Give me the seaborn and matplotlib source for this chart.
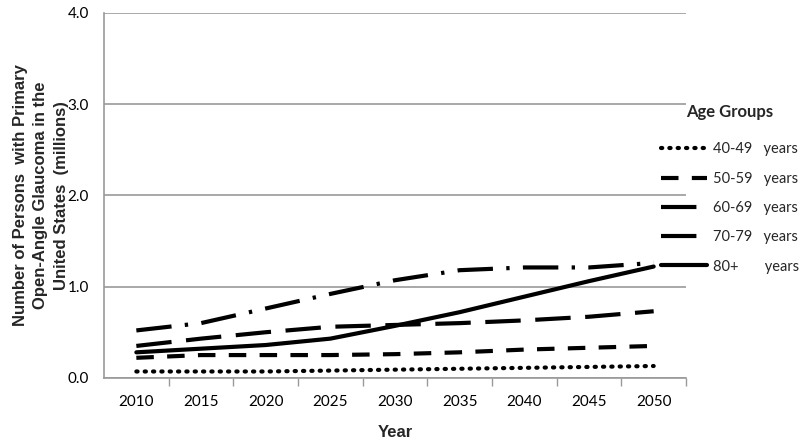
import matplotlib
matplotlib.use("Agg")
import matplotlib.pyplot as plt
import seaborn as sns
import pandas as pd

years = [2010, 2015, 2020, 2025, 2030, 2035, 2040, 2045, 2050]
age_groups = ["40-49   years", "50-59   years", "60-69   years", "70-79   years", "80+       years"]
v40 = [0.07, 0.07, 0.07, 0.08, 0.09, 0.10, 0.11, 0.12, 0.13]
v50 = [0.22, 0.25, 0.25, 0.25, 0.26, 0.28, 0.31, 0.33, 0.35]
v60 = [0.35, 0.43, 0.50, 0.56, 0.58, 0.60, 0.63, 0.67, 0.73]
v70 = [0.52, 0.60, 0.76, 0.92, 1.07, 1.18, 1.21, 1.21, 1.26]
v80 = [0.28, 0.32, 0.36, 0.43, 0.57, 0.72, 0.89, 1.06, 1.22]
yticks = [0.0, 1.0, 2.0, 3.0, 4.0]

rows = []
for g, vals in zip(age_groups, [v40, v50, v60, v70, v80]):
    for y, v in zip(years, vals):
        rows.append({"Year": y, "Value": v, "Group": g})
df = pd.DataFrame(rows)

sns.set_theme(style="white")
plt.rcParams['font.family'] = ['Lato', 'DejaVu Sans']

fig = plt.figure(figsize=(8, 4.43), dpi=100)
ax = fig.add_axes([0.13, 0.147, 0.7275, 0.824])

dashes = {
    age_groups[0]: (0.3, 1.7),
    age_groups[1]: (4.2, 3.2),
    age_groups[2]: (8.5, 3.5),
    age_groups[3]: (8.5, 3.2, 0.8, 3.2),
    age_groups[4]: "",
}
sns.lineplot(data=df, x="Year", y="Value", style="Group", hue="Group",
             palette=["black"] * 5, dashes=dashes, linewidth=3.0,
             ax=ax, legend=True, dash_capstyle="butt")

ax.set_xlim(2007.5, 2052.5)
ax.set_ylim(0, 4.0)
ax.set_xticks(years)
ax.set_xticks([2012.5 + 5 * i for i in range(8)] + [2052.5], minor=True)
ax.tick_params(axis="x", which="major", length=0, pad=12, labelsize=11, colors="black")
ax.tick_params(axis="x", which="minor", length=6, width=1, color="#999999", direction="out", bottom=True)
ax.set_yticks(yticks)
ax.set_yticklabels([f"{t:.1f}" for t in yticks])
ax.tick_params(axis="y", length=0, pad=11, labelsize=11, colors="black")
ax.yaxis.grid(True, color="#999999", linewidth=1.2)
ax.xaxis.grid(False)
for s in ["top", "right"]:
    ax.spines[s].set_visible(False)
for s in ["left", "bottom"]:
    ax.spines[s].set_color("#999999")
    ax.spines[s].set_linewidth(1.2)
for line in ax.lines:
    line.set_dash_capstyle("butt")
ax.lines[0].set_dash_capstyle("round")

ax.set_xlabel("Year", fontsize=12, fontweight="bold", family="Liberation Sans", labelpad=12)
ax.set_ylabel("Number of Persons  with Primary\nOpen-Angle Glaucoma in the\nUnited States  (millions)",
              fontsize=12, fontweight="bold", family="Liberation Sans", labelpad=-1, linespacing=1.45)

handles, labels = ax.get_legend_handles_labels()
ax.legend_.remove()
leg = fig.legend(handles, labels, title="Age Groups", loc="upper left",
                 bbox_to_anchor=(0.826, 0.765), frameon=False, handlelength=3.2,
                 labelspacing=1.05, fontsize=10.5, handletextpad=0.35, borderpad=0,
                 borderaxespad=0)
leg.get_title().set_fontweight("bold")
leg.get_title().set_fontsize(12)
leg._legend_box.sep = 16
leg._legend_box.align = "center"
for h in leg.legend_handles:
    h.set_dash_capstyle("butt")
leg.legend_handles[0].set_dash_capstyle("round")

fig.savefig("out.png", dpi=100)
